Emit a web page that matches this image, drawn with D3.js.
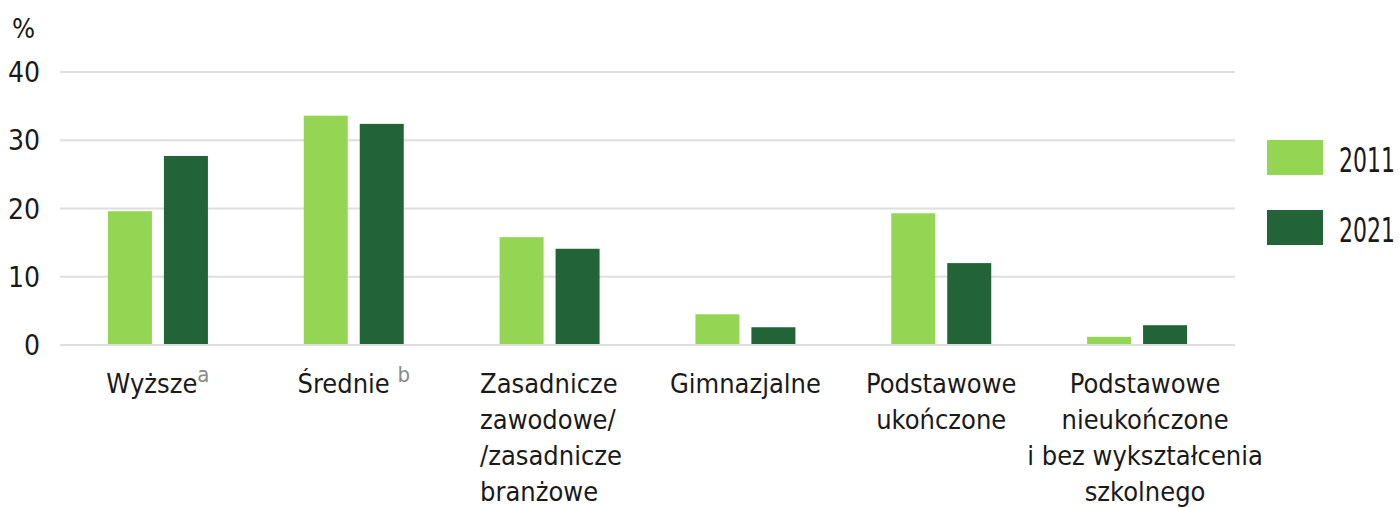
<!DOCTYPE html>
<html>
<head>
<meta charset="utf-8">
<script src="https://cdn.jsdelivr.net/npm/d3@7"></script>
<style>
  body { margin: 0; background: #fff; }
  text { font-family: "DejaVu Sans Condensed", "DejaVu Sans", sans-serif; fill: #1a1a1a; }
</style>
</head>
<body>
<script>
const categories = ["Wyższe", "Średnie", "Zasadnicze", "Gimnazjalne", "Podstawowe ukończone", "Podstawowe nieukończone"];
const labelLines = [
  ["Wyższe"],
  ["Średnie "],
  ["Zasadnicze", "zawodowe/", "/zasadnicze", "branżowe"],
  ["Gimnazjalne"],
  ["Podstawowe", "ukończone"],
  ["Podstawowe", "nieukończone", "i bez wykształcenia", "szkolnego"]
];
const footnotes = ["a", "b", "", "", "", ""];
const years = ["2011", "2021"];
const values2011 = [19.6, 33.6, 15.8, 4.5, 19.3, 1.2];
const values2021 = [27.7, 32.4, 14.1, 2.6, 12.0, 2.9];
const yTicks = [0, 10, 20, 30, 40];
const colors = ["#94d653", "#226337"];

let width = 1400;
let height = 508;

const svg = d3.select("body")
  .append("svg")
  .attr("width", width)
  .attr("height", height);

const x = d3.scaleBand().domain(categories).range([60, 1235]);
const y = d3.scaleLinear().domain([0, 40]).range([345, 72]);
const xInner = d3.scaleBand()
  .domain(years)
  .range([x.bandwidth() / 2 - 50, x.bandwidth() / 2 + 50])
  .paddingInner(0.214);

//Gridlines
svg.append("g")
  .selectAll("line")
  .data(yTicks)
  .enter()
  .append("line")
  .attr("x1", 60)
  .attr("x2", 1235)
  .attr("y1", (d) => y(d))
  .attr("y2", (d) => y(d))
  .attr("stroke", "#dedede")
  .attr("stroke-width", 2);

//Y tick labels
svg.append("g")
  .selectAll("text")
  .data(yTicks)
  .enter()
  .append("text")
  .attr("x", 40)
  .attr("y", (d) => y(d) + 10)
  .attr("text-anchor", "end")
  .attr("font-size", 28)
  .text((d) => d);

svg.append("text")
  .attr("x", 12)
  .attr("y", 38)
  .attr("font-size", 27)
  .text("%");

//Bars
const rows = categories.map((c, i) => ({ cat: c, vals: [values2011[i], values2021[i]] }));
const groups = svg.append("g")
  .selectAll("g")
  .data(rows)
  .enter()
  .append("g")
  .attr("transform", (d) => `translate(${x(d.cat)},0)`);

groups.selectAll("rect")
  .data((d) => d.vals.map((v, j) => ({ year: years[j], v: v })))
  .enter()
  .append("rect")
  .attr("x", (d) => xInner(d.year))
  .attr("width", xInner.bandwidth())
  .attr("y", (d) => y(d.v))
  .attr("height", (d) => y(0) - y(d.v) - 1)
  .attr("fill", (d, j) => colors[j]);

//Category labels
const labels = svg.append("g")
  .selectAll("text")
  .data(categories)
  .enter()
  .append("text")
  .attr("font-size", 27)
  .attr("text-anchor", (d, i) => (i === 2 ? "start" : "middle"))
  .attr("transform", (d, i) => {
    let cx = x(d) + x.bandwidth() / 2;
    if (i === 2) cx = 480;
    if (i === 5) cx += 8;
    return `translate(${cx},393)`;
  });

labels.each(function (d, i) {
  const t = d3.select(this);
  labelLines[i].forEach((line, k) => {
    t.append("tspan")
      .attr("x", 0)
      .attr("y", k * 36)
      .text(line);
  });
  if (footnotes[i]) {
    t.append("tspan")
      .attr("font-size", 22)
      .attr("dy", -11)
      .style("fill", "#8a8a8a")
      .text(footnotes[i]);
  }
});

//Legend
const legend = svg.append("g")
  .selectAll("g")
  .data(years)
  .enter()
  .append("g")
  .attr("transform", (d, i) => `translate(1267,${140 + i * 70})`);

legend.append("rect")
  .attr("width", 56)
  .attr("height", 35)
  .attr("fill", (d, i) => colors[i]);

legend.append("text")
  .attr("transform", "translate(72,32) scale(0.72,1)")
  .attr("font-size", 34)
  .text((d) => d);
</script>
</body>
</html>
